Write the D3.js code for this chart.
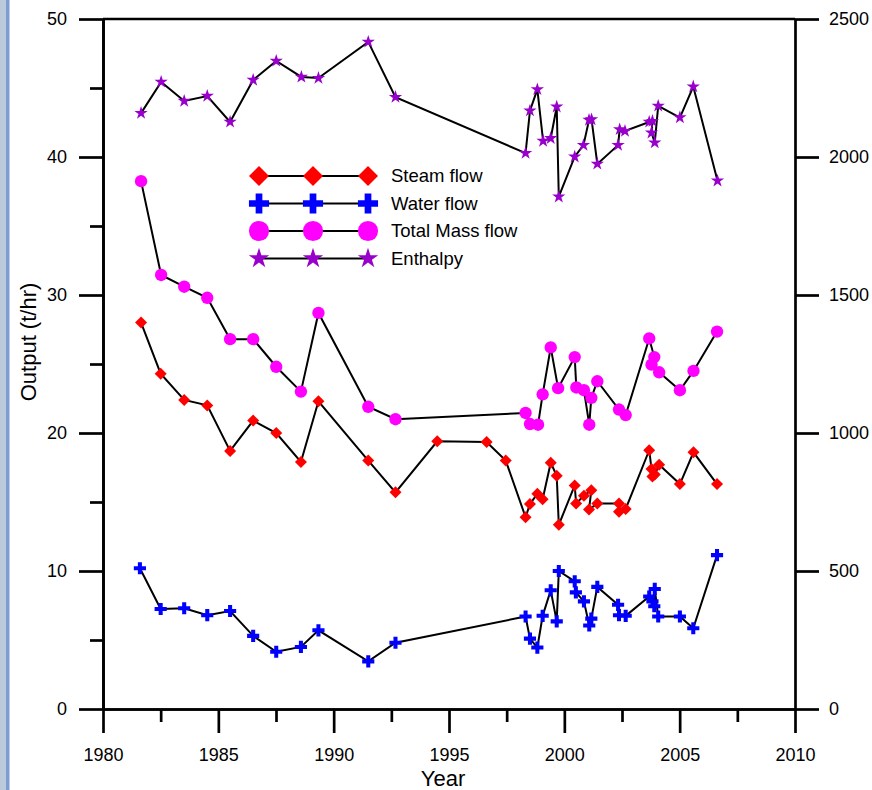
<!DOCTYPE html>
<html>
<head>
<meta charset="utf-8">
<script src="https://cdn.jsdelivr.net/npm/d3@7"></script>
<style>
	body { margin: 0; background: #fff; }
	svg { display: block; font-family: "Liberation Sans", Arial, sans-serif; }
</style>
</head>
<body>
<svg width="872" height="790"></svg>
<script>

	// Steam flow (t/hr)
	var steamYears = [1981.65, 1982.5, 1983.52, 1984.52, 1985.51, 1986.51, 1987.51, 1988.58, 1989.34, 1991.5, 1992.68,
		1994.49, 1996.63, 1997.46, 1998.32, 1998.51, 1998.83, 1999.06, 1999.41, 1999.67, 1999.76, 2000.45, 2000.51,
		2000.85, 2001.17, 2001.07, 2001.43, 2002.37, 2002.37, 2002.66, 2003.68, 2003.78, 2003.82, 2003.92, 2004.11,
		2005.01, 2005.6, 2006.62];
	var steamFlow = [28.0, 24.3, 22.4, 22.0, 18.7, 20.9, 20.0, 17.9, 22.3, 18.0, 15.7,
		19.4, 19.35, 18.0, 13.9, 14.85, 15.6, 15.2, 17.85, 16.9, 13.35, 16.2, 14.9,
		15.45, 15.85, 14.45, 14.9, 14.9, 14.3, 14.5, 18.75, 17.4, 16.85, 17.0, 17.7,
		16.3, 18.6, 16.3];

	// Water flow (t/hr)
	var waterYears = [1981.6, 1982.5, 1983.52, 1984.52, 1985.51, 1986.51, 1987.51, 1988.58, 1989.34, 1991.5, 1992.68,
		1998.32, 1998.51, 1998.83, 1999.06, 1999.41, 1999.67, 1999.76, 2000.45, 2000.5, 2000.85, 2001.08, 2001.17,
		2001.43, 2002.33, 2002.37, 2002.66, 2003.68, 2003.82, 2003.9, 2003.92, 2004.07, 2005.01, 2005.59, 2006.62];
	var waterFlow = [10.2, 7.25, 7.3, 6.8, 7.1, 5.3, 4.15, 4.5, 5.7, 3.45, 4.8,
		6.7, 5.1, 4.45, 6.75, 8.6, 6.35, 10.0, 9.25, 8.45, 7.8, 6.05, 6.55,
		8.85, 7.55, 6.8, 6.75, 8.15, 7.8, 7.45, 8.7, 6.7, 6.7, 5.85, 11.15];

	// Total mass flow (t/hr)
	var totalYears = [1981.65, 1982.52, 1983.52, 1984.52, 1985.51, 1986.51, 1987.51, 1988.58, 1989.34, 1991.5, 1992.68,
		1998.32, 1998.51, 1998.86, 1999.06, 1999.41, 1999.73, 2000.45, 2000.52, 2000.85, 2001.08, 2001.17, 2001.43,
		2002.37, 2002.66, 2003.68, 2003.9, 2003.78, 2004.11, 2005.01, 2005.6, 2006.62];
	var totalMass = [38.25, 31.45, 30.6, 29.8, 26.8, 26.8, 24.8, 23.0, 28.7, 21.9, 21.0,
		21.45, 20.65, 20.6, 22.8, 26.2, 23.25, 25.5, 23.3, 23.1, 20.6, 22.55, 23.75,
		21.7, 21.3, 26.85, 25.5, 24.95, 24.4, 23.1, 24.5, 27.35];

	// Enthalpy (right axis)
	var enthYears = [1981.65, 1982.52, 1983.52, 1984.52, 1985.51, 1986.51, 1987.51, 1988.6, 1989.34, 1991.5, 1992.68,
		1998.32, 1998.51, 1998.83, 1999.08, 1999.41, 1999.67, 1999.76, 2000.45, 2000.83, 2001.07, 2001.18, 2001.43,
		2002.33, 2002.4, 2002.63, 2003.68, 2003.82, 2003.78, 2003.92, 2004.07, 2005.01, 2005.59, 2006.64];
	var enthalpy = [2159, 2272, 2203, 2221, 2127, 2279, 2348, 2290, 2286, 2417, 2217,
		2014, 2168, 2245, 2058, 2068, 2182, 1856, 2001, 2043, 2134, 2136, 1975,
		2043, 2100, 2094, 2127, 2130, 2088, 2052, 2185, 2143, 2255, 1914];

	var yearTicks = [1980, 1985, 1990, 1995, 2000, 2005, 2010];
	var leftTicks = [0, 10, 20, 30, 40, 50];
	var rightTicks = [0, 500, 1000, 1500, 2000, 2500];
	var seriesNames = ["Steam flow", "Water flow", "Total Mass flow", "Enthalpy"];

	var chart = (function(){

		var svg = d3.select("svg");
		var m_left = 103, m_right = 795, m_top = 19, m_bottom = 709;

		var x = d3.scaleLinear().domain([1980, 2010]).range([m_left, m_right]);
		var y = d3.scaleLinear().domain([0, 50]).range([m_bottom, m_top]);
		var y2 = d3.scaleLinear().domain([0, 2500]).range([m_bottom, m_top]);

		// window edge on the left
		svg.append("rect").attr("x", 0).attr("y", 0).attr("width", 6).attr("height", 790).attr("fill", "#bccbdb");
		svg.append("rect").attr("x", 6).attr("y", 0).attr("width", 3.5).attr("height", 790).attr("fill", "#7f9dd2");

		function zip(xs, ys){
			return xs.map(function(d, i){ return [d, ys[i]]; });
		}

		var series = [
			{ "name": seriesNames[0], "data": zip(steamYears, steamFlow), "scale": y, "color": "#ff0000",
				"symbol": d3.symbolSquare, "size": 72, "legendSize": 200, "rotate": 45 },
			{ "name": seriesNames[1], "data": zip(waterYears, waterFlow), "scale": y, "color": "#0000ff",
				"symbol": d3.symbolCross, "size": 82, "legendSize": 225, "rotate": 0 },
			{ "name": seriesNames[2], "data": zip(totalYears, totalMass), "scale": y, "color": "#ff00ff",
				"symbol": d3.symbolCircle, "size": 120, "legendSize": 320, "rotate": 0 },
			{ "name": seriesNames[3], "data": zip(enthYears, enthalpy), "scale": y2, "color": "#9900cc",
				"symbol": d3.symbolStar, "size": 55, "legendSize": 130, "rotate": 0 }
		];

		// axes
		var xAxis = d3.axisBottom(x).tickValues(yearTicks).tickSize(24).tickSizeOuter(0).tickPadding(15).tickFormat(d3.format("d"));
		var xMinor = d3.axisBottom(x).tickValues(d3.range(1982.5, 2010, 5)).tickSize(13).tickSizeOuter(0).tickFormat("");
		var yAxis = d3.axisLeft(y).tickValues(leftTicks).tickSize(24).tickSizeOuter(0).tickPadding(12);
		var yMinor = d3.axisLeft(y).tickValues(d3.range(5, 50, 10)).tickSize(13).tickSizeOuter(0).tickFormat("");
		var y2Axis = d3.axisRight(y2).tickValues(rightTicks).tickSize(24).tickSizeOuter(0).tickPadding(10).tickFormat(d3.format("d"));

		function style_axis(g){
			g.selectAll("path, line").attr("stroke", "#000").attr("stroke-width", 2.7);
			g.selectAll("text").attr("fill", "#000").attr("font-size", "18px");
			g.attr("font-family", null);
		}

		svg.append("g").attr("transform", "translate(0," + m_bottom + ")").call(xMinor).call(style_axis);
		svg.append("g").attr("transform", "translate(0," + m_bottom + ")").call(xAxis).call(style_axis);
		svg.append("g").attr("transform", "translate(" + m_left + ",0)").call(yMinor).call(style_axis);
		svg.append("g").attr("transform", "translate(" + m_left + ",0)").call(yAxis).call(style_axis);
		svg.append("g").attr("transform", "translate(" + m_right + ",0)").call(y2Axis).call(style_axis);

		// top frame
		svg.append("line").attr("x1", m_left).attr("x2", m_right).attr("y1", m_top).attr("y2", m_top)
			.attr("stroke", "#000").attr("stroke-width", 2.7);

		svg.append("text").attr("x", (m_left + m_right) / 2 - 6).attr("y", 786).attr("text-anchor", "middle")
			.attr("font-size", "22px").text("Year");
		svg.append("text").attr("transform", "translate(36,342) rotate(-90)")
			.attr("text-anchor", "middle").attr("font-size", "22px").text("Output (t/hr)");

		// data: black line first, markers on top
		var plot = svg.append("g");
		series.forEach(function(s){
			var line = d3.line().x(function(d){ return x(d[0]); }).y(function(d){ return s.scale(d[1]); });
			plot.append("path").datum(s.data).attr("d", line)
				.attr("fill", "none").attr("stroke", "#000").attr("stroke-width", 2);
			plot.append("g").selectAll("path").data(s.data).enter().append("path")
				.attr("transform", function(d){ return "translate(" + x(d[0]) + "," + s.scale(d[1]) + ") rotate(" + s.rotate + ")"; })
				.attr("d", d3.symbol().type(s.symbol).size(s.size))
				.attr("fill", s.color);
		});

		// legend
		var legend = svg.append("g");
		var legendX = [259, 313, 368];
		series.forEach(function(s, i){
			var ly = 176 + i * 27.5;
			legend.append("line").attr("x1", legendX[0]).attr("x2", legendX[2]).attr("y1", ly).attr("y2", ly)
				.attr("stroke", "#000").attr("stroke-width", 2);
			legendX.forEach(function(lx){
				legend.append("path")
					.attr("transform", "translate(" + lx + "," + ly + ") rotate(" + s.rotate + ")")
					.attr("d", d3.symbol().type(s.symbol).size(s.legendSize))
					.attr("fill", s.color);
			});
			legend.append("text").attr("x", 391).attr("y", ly + 6).attr("font-size", "18.5px").text(s.name);
		});

		return null;
	})();

</script>
</body>
</html>
